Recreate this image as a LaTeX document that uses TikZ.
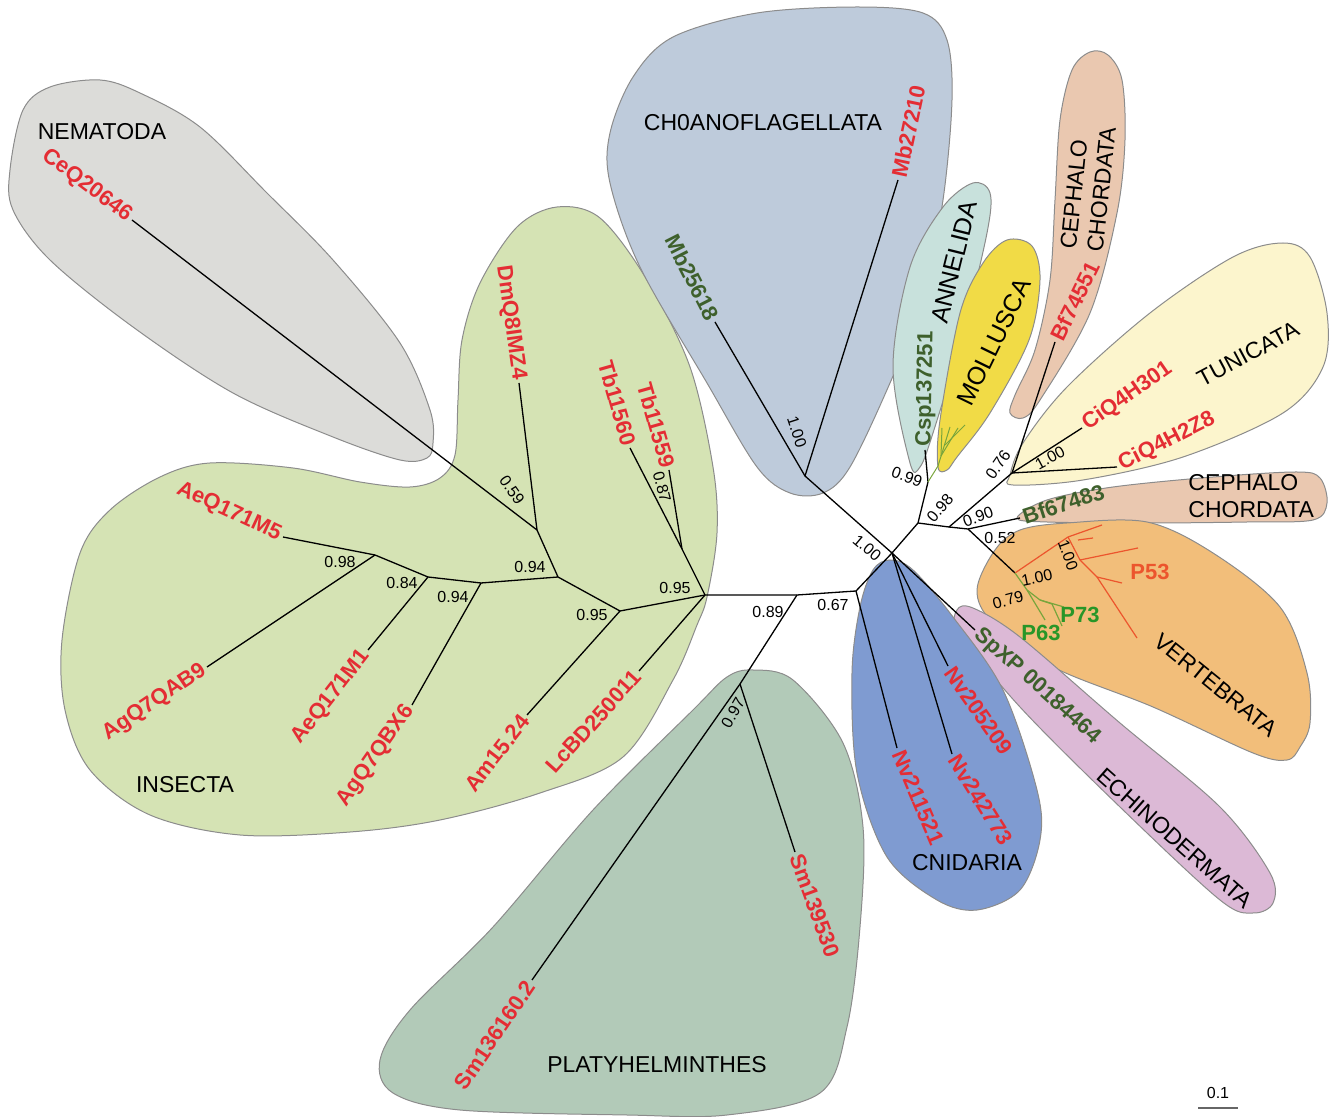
\documentclass[tikz,border=0pt]{standalone}
\usepackage{fontspec}
\setmainfont{Liberation Sans}
\usepackage{tikz}

\definecolor{labred}{RGB}{228,45,52}
\definecolor{labgrn}{RGB}{62,96,44}
\definecolor{pgrn}{RGB}{40,150,40}
\definecolor{pred}{RGB}{236,85,45}
\definecolor{twiggrn}{RGB}{120,165,60}
\definecolor{cNem}{RGB}{220,220,217}
\definecolor{cIns}{RGB}{213,227,180}
\definecolor{cCho}{RGB}{190,203,219}
\definecolor{cAnn}{RGB}{200,225,220}
\definecolor{cMol}{RGB}{241,219,70}
\definecolor{cCep}{RGB}{234,200,176}
\definecolor{cTun}{RGB}{252,245,205}
\definecolor{cVer}{RGB}{242,190,122}
\definecolor{cEch}{RGB}{220,185,214}
\definecolor{cCni}{RGB}{127,155,209}
\definecolor{cPla}{RGB}{178,202,184}

\begin{document}
\begin{tikzpicture}[x=0.5pt,y=0.5pt,yscale=-1,xscale=1,
  brline/.style={line width=0.65pt},
  blob/.style={draw=black!45,line width=0.5pt},
  redlab/.style={text=labred,font=\bfseries\fontsize{11}{13}\selectfont,inner sep=1.5pt},
  grnlab/.style={text=labgrn,font=\bfseries\fontsize{11}{13}\selectfont,inner sep=1.5pt},
  cladelab/.style={font=\fontsize{11.5}{13.5}\selectfont,inner sep=1pt},
  bigclade/.style={font=\fontsize{12.5}{15}\selectfont,inner sep=1pt},
  supval/.style={font=\fontsize{8}{9}\selectfont,inner sep=1pt}]
\useasboundingbox (0,0) rectangle (1330,1117);

%Clade shapes
\filldraw[blob,fill=cNem] plot[smooth cycle,tension=0.55] coordinates {(10,170) (23,110) (50,87) (100,80) (140,93) (200,127) (267,193) (333,260) (400,343) (430,410) (433,443) (427,458) (400,460) (333,437) (233,393) (133,327) (50,260) (13,210)};
\filldraw[blob,fill=cIns] plot[smooth cycle,tension=0.55] coordinates {(62,640) (80,553) (110,510) (160,477) (210,463) (293,468) (360,482) (410,487) (440,478) (455,455) (458,400) (462,340) (480,283) (517,227) (557,207) (600,218) (647,280) (690,367) (713,467) (717,533) (707,597) (697,625) (673,680) (623,757) (540,793) (440,820) (350,832) (240,835) (150,815) (90,770) (65,710)};
\filldraw[blob,fill=cCho] plot[smooth cycle,tension=0.55] coordinates {(610,133) (633,77) (673,37) (757,13) (857,7) (923,13) (947,40) (952,100) (943,200) (923,300) (890,383) (850,467) (823,493) (790,493) (757,467) (707,383) (640,267) (610,183)};
\filldraw[blob,fill=cAnn] plot[smooth cycle,tension=0.55] coordinates {(910,463) (893,367) (910,267) (943,207) (973,183) (990,193) (987,233) (963,333) (933,433) (920,467)};
\filldraw[blob,fill=cMol] plot[smooth cycle,tension=0.55] coordinates {(938,467) (940,420) (960,313) (983,263) (1007,240) (1032,246) (1040,280) (1029,340) (990,413) (957,457) (947,470)};
\filldraw[blob,fill=cCep] plot[smooth cycle,tension=0.55] coordinates {(1010,413) (1023,418) (1040,400) (1090,313) (1117,213) (1125,140) (1122,80) (1108,55) (1090,52) (1072,70) (1060,120) (1055,200) (1050,280) (1035,350) (1015,395)};
\filldraw[blob,fill=cTun] plot[smooth cycle,tension=0.55] coordinates {(1013,485) (1083,480) (1183,457) (1283,413) (1323,367) (1327,313) (1310,257) (1283,243) (1233,257) (1150,313) (1067,387) (1023,443) (1010,475)};
\filldraw[blob,fill=cCep] plot[smooth cycle,tension=0.55] coordinates {(1017,518) (1047,500) (1113,487) (1213,477) (1297,472) (1320,478) (1327,503) (1313,520) (1247,522) (1147,523) (1047,522)};
\filldraw[blob,fill=cVer] plot[smooth cycle,tension=0.55] coordinates {(977,590) (995,550) (1020,530) (1067,523) (1147,522) (1213,553) (1280,607) (1307,673) (1310,723) (1300,747) (1287,760) (1253,753) (1153,707) (1053,667) (993,623)};
\filldraw[blob,fill=cEch] plot[smooth cycle,tension=0.55] coordinates {(957,610) (973,608) (1020,637) (1120,723) (1220,807) (1270,873) (1273,903) (1253,913) (1220,900) (1120,807) (1020,707) (960,633)};
\filldraw[blob,fill=cCni] plot[smooth cycle,tension=0.55] coordinates {(890,560) (913,570) (953,617) (1003,690) (1037,790) (1040,840) (1020,890) (977,910) (937,900) (887,857) (857,773) (852,673) (860,607) (873,570)};
\filldraw[blob,fill=cPla] plot[smooth cycle,tension=0.55] coordinates {(753,670) (793,680) (843,743) (863,827) (860,927) (847,1027) (820,1093) (727,1115) (627,1115) (460,1110) (393,1093) (380,1060) (410,1010) (493,927) (593,810) (693,710) (727,677)};

%Tree nodes
\coordinate (hub) at (892,553);
\coordinate (nCho) at (805,476);
\coordinate (tMb27) at (898,180);
\coordinate (tMb25) at (715,322);
\coordinate (nDeu) at (918,523);
\coordinate (nAnn) at (928,482);
\coordinate (tCsp) at (925,450);
\coordinate (tMol) at (938,466);
\coordinate (nChd) at (949,527);
\coordinate (nTun) at (1012,473);
\coordinate (tBf74) at (1055,342);
\coordinate (tCi301) at (1082,428);
\coordinate (tCi2Z8) at (1117,467);
\coordinate (nVer) at (968,529);
\coordinate (tBf67) at (1020,518);
\coordinate (nP) at (1015,573);
\coordinate (nBil) at (856,591);
\coordinate (tNv21) at (897,748);
\coordinate (tNv20) at (948,666);
\coordinate (tNv24) at (952,754);
\coordinate (tSp) at (975,630);
\coordinate (nPla) at (797,595);
\coordinate (nSm) at (740,684);
\coordinate (tSm36) at (532,980);
\coordinate (tSm39) at (795,852);
\coordinate (nIns) at (705,595);
\coordinate (nTb) at (682,549);
\coordinate (tTb60) at (630,448);
\coordinate (tTb59) at (669,470);
\coordinate (tLc) at (639,671);
\coordinate (nAm) at (620,611);
\coordinate (tAm) at (527,715);
\coordinate (nB) at (558,577);
\coordinate (nC) at (537,530);
\coordinate (tDm) at (519,383);
\coordinate (tCe) at (132,220);
\coordinate (nD) at (481,583);
\coordinate (tAgBX) at (412,705);
\coordinate (nE) at (428,577);
\coordinate (tAe1) at (368,650);
\coordinate (nF) at (375,555);
\coordinate (tAe5) at (283,537);
\coordinate (tAgAB) at (207,667);

%Straight Lines
\draw[brline] (nIns) -- (nPla) -- (nBil) -- (hub);
\draw[brline] (hub) -- (nCho) -- (tMb27);
\draw[brline] (nCho) -- (tMb25);
\draw[brline] (hub) -- (nDeu) -- (nAnn) -- (tCsp);
\draw[brline] (nDeu) -- (nChd) -- (nTun) -- (tBf74);
\draw[brline] (nTun) -- (tCi301);
\draw[brline] (nTun) -- (tCi2Z8);
\draw[brline] (nChd) -- (nVer) -- (tBf67);
\draw[brline] (nVer) -- (nP);
\draw[brline] (nBil) -- (tNv21);
\draw[brline] (hub) -- (tNv20);
\draw[brline] (hub) -- (tNv24);
\draw[brline] (hub) -- (tSp);
\draw[brline] (nPla) -- (nSm) -- (tSm36);
\draw[brline] (nSm) -- (tSm39);
\draw[brline] (nIns) -- (nTb) -- (tTb60);
\draw[brline] (nTb) -- (tTb59);
\draw[brline] (nIns) -- (tLc);
\draw[brline] (nIns) -- (nAm) -- (tAm);
\draw[brline] (nAm) -- (nB) -- (nC) -- (tDm);
\draw[brline] (nC) -- (tCe);
\draw[brline] (nB) -- (nD) -- (tAgBX);
\draw[brline] (nD) -- (nE) -- (tAe1);
\draw[brline] (nE) -- (nF) -- (tAe5);
\draw[brline] (nF) -- (tAgAB);

%Mollusca twigs
\coordinate (mA) at (950,427);
\coordinate (mB) at (945,445);
\coordinate (mC) at (965,425);
\coordinate (mD) at (941,456);
\coordinate (mE) at (958,428);
\coordinate (mF) at (942,428);
\draw[twiggrn,line width=0.5pt] (nAnn) -- (tMol) -- (mA);
\draw[twiggrn,line width=0.5pt] (mB) -- (mC);
\draw[twiggrn,line width=0.5pt] (mD) -- (mE);
\draw[twiggrn,line width=0.5pt] (mD) -- (mF);

%Vertebrate p53 family
\coordinate (v1) at (1068,537);
\coordinate (v2) at (1102,525);
\coordinate (v3) at (1078,540);
\coordinate (v4) at (1093,538);
\coordinate (v5) at (1080,560);
\coordinate (v6) at (1138,548);
\coordinate (v7) at (1097,577);
\coordinate (v8) at (1122,583);
\coordinate (v9) at (1137,638);
\draw[pred,line width=0.6pt] (nP) -- (v1) -- (v2);
\draw[pred,line width=0.6pt] (v3) -- (v4);
\draw[pred,line width=0.6pt] (v1) -- (v5) -- (v6);
\draw[pred,line width=0.6pt] (v5) -- (v7) -- (v8);
\draw[pred,line width=0.6pt] (v7) -- (v9);
\coordinate (g1) at (1027,590);
\coordinate (g2) at (1045,620);
\coordinate (g3) at (1040,600);
\coordinate (g4) at (1064,607);
\coordinate (g5) at (1062,626);
\coordinate (g6) at (1052,604);
\draw[twiggrn,line width=0.6pt] (nP) -- (g1) -- (g2);
\draw[twiggrn,line width=0.6pt] (g1) -- (g3) -- (g4);
\draw[twiggrn,line width=0.6pt] (g3) -- (g6) -- (g5);

% Text Node
\node[redlab,anchor=east,rotate=-37] (lCe) at (tCe) {CeQ20646};
\node[redlab,anchor=east,rotate=-25] (lAe5) at (tAe5) {AeQ171M5};
\node[redlab,anchor=east,rotate=34] (lAgAB) at (tAgAB) {AgQ7QAB9};
\node[redlab,anchor=east,rotate=52] (lAe1) at (tAe1) {AeQ171M1};
\node[redlab,anchor=east,rotate=55] (lAgBX) at (tAgBX) {AgQ7QBX6};
\node[redlab,anchor=east,rotate=52] (lAm) at (tAm) {Am15.24};
\node[redlab,anchor=east,rotate=48] (lLc) at (tLc) {LcBD250011};
\node[redlab,anchor=east,rotate=-82] (lDm) at (tDm) {DmQ8IMZ4};
\node[redlab,anchor=east,rotate=-74] (lTb60) at (tTb60) {Tb11560};
\node[redlab,anchor=east,rotate=-74] (lTb59) at (tTb59) {Tb11559};
\node[grnlab,anchor=east,rotate=-63] (lMb25) at (tMb25) {Mb25618};
\node[redlab,anchor=west,rotate=78] (lMb27) at (tMb27) {Mb27210};
\node[grnlab,anchor=west,rotate=89] (lCsp) at (tCsp) {Csp137251};
\node[redlab,anchor=west,rotate=64] (lBf74) at (tBf74) {Bf74551};
\node[redlab,anchor=west,rotate=35] (lCi301) at (tCi301) {CiQ4H301};
\node[redlab,anchor=west,rotate=27] (lCi2Z8) at (tCi2Z8) {CiQ4H2Z8};
\node[grnlab,anchor=west,rotate=18] (lBf67) at (tBf67) {Bf67483};
\node[grnlab,anchor=west,rotate=-42] (lSp) at (tSp) {SpXP 00184464};
\node[redlab,anchor=west,rotate=-55] (lNv20) at (tNv20) {Nv205209};
\node[redlab,anchor=west,rotate=-58] (lNv24) at (tNv24) {Nv242773};
\node[redlab,anchor=west,rotate=-67] (lNv21) at (tNv21) {Nv211521};
\node[redlab,anchor=west,rotate=-70] (lSm39) at (tSm39) {Sm139530};
\node[redlab,anchor=east,rotate=56] (lSm36) at (tSm36) {Sm136160.2};
\node[redlab,text=pred] (lP53) at (1150,572) {P53};
\node[redlab,text=pgrn] (lP73) at (1080,615) {P73};
\node[redlab,text=pgrn] (lP63) at (1041,633) {P63};

% Clade names
\node[cladelab] (cNem) at (102,132) {NEMATODA};
\node[cladelab] (cIns) at (185,785) {INSECTA};
\node[cladelab] (cCho) at (763,123) {CH0ANOFLAGELLATA};
\node[bigclade,rotate=76] (cAnn) at (954,262) {ANNELIDA};
\node[bigclade,rotate=64] (cMol) at (994,342) {MOLLUSCA};
\node[cladelab,rotate=84,align=left] (cCep) at (1088,188) {CEPHALO\\CHORDATA};
\node[cladelab,rotate=28] (cTun) at (1248,354) {TUNICATA};
\node[cladelab,anchor=west,align=left] (cCep2) at (1186,496) {CEPHALO\\CHORDATA};
\node[cladelab,rotate=-39] (cVer) at (1216,685) {VERTEBRATA};
\node[cladelab,rotate=-41.5] (cEch) at (1175,838) {ECHINODERMATA};
\node[cladelab] (cCni) at (967,863) {CNIDARIA};
\node[cladelab] (cPla) at (657,1065) {PLATYHELMINTHES};

% Support values
\node[supval,rotate=-55] at (512,490) {0.59};
\node[supval] at (530,567) {0.94};
\node[supval] at (340,562) {0.98};
\node[supval] at (402,583) {0.84};
\node[supval] at (453,597) {0.94};
\node[supval] at (592,615) {0.95};
\node[supval] at (675,588) {0.95};
\node[supval,rotate=-75] at (662,487) {0.87};
\node[supval,rotate=-72] at (797,432) {1.00};
\node[supval,rotate=-40] at (867,548) {1.00};
\node[supval] at (768,612) {0.89};
\node[supval] at (833,605) {0.67};
\node[supval,rotate=60] at (733,713) {0.97};
\node[supval,rotate=-20] at (907,477) {0.99};
\node[supval,rotate=50] at (940,508) {0.98};
\node[supval,rotate=55] at (998,465) {0.76};
\node[supval,rotate=28] at (1050,458) {1.00};
\node[supval,rotate=20] at (978,517) {0.90};
\node[supval] at (1000,538) {0.52};
\node[supval,rotate=-70] at (1068,555) {1.00};
\node[supval,rotate=12] at (1037,578) {1.00};
\node[supval,rotate=15] at (1008,600) {0.79};

% Scale bar
\node[supval] (sbar) at (1218,1093) {0.1};
\coordinate (sb1) at (1198,1108);
\coordinate (sb2) at (1238,1108);
\draw[black!60,line width=0.8pt] (sb1) -- (sb2);

\end{tikzpicture}
\end{document}
